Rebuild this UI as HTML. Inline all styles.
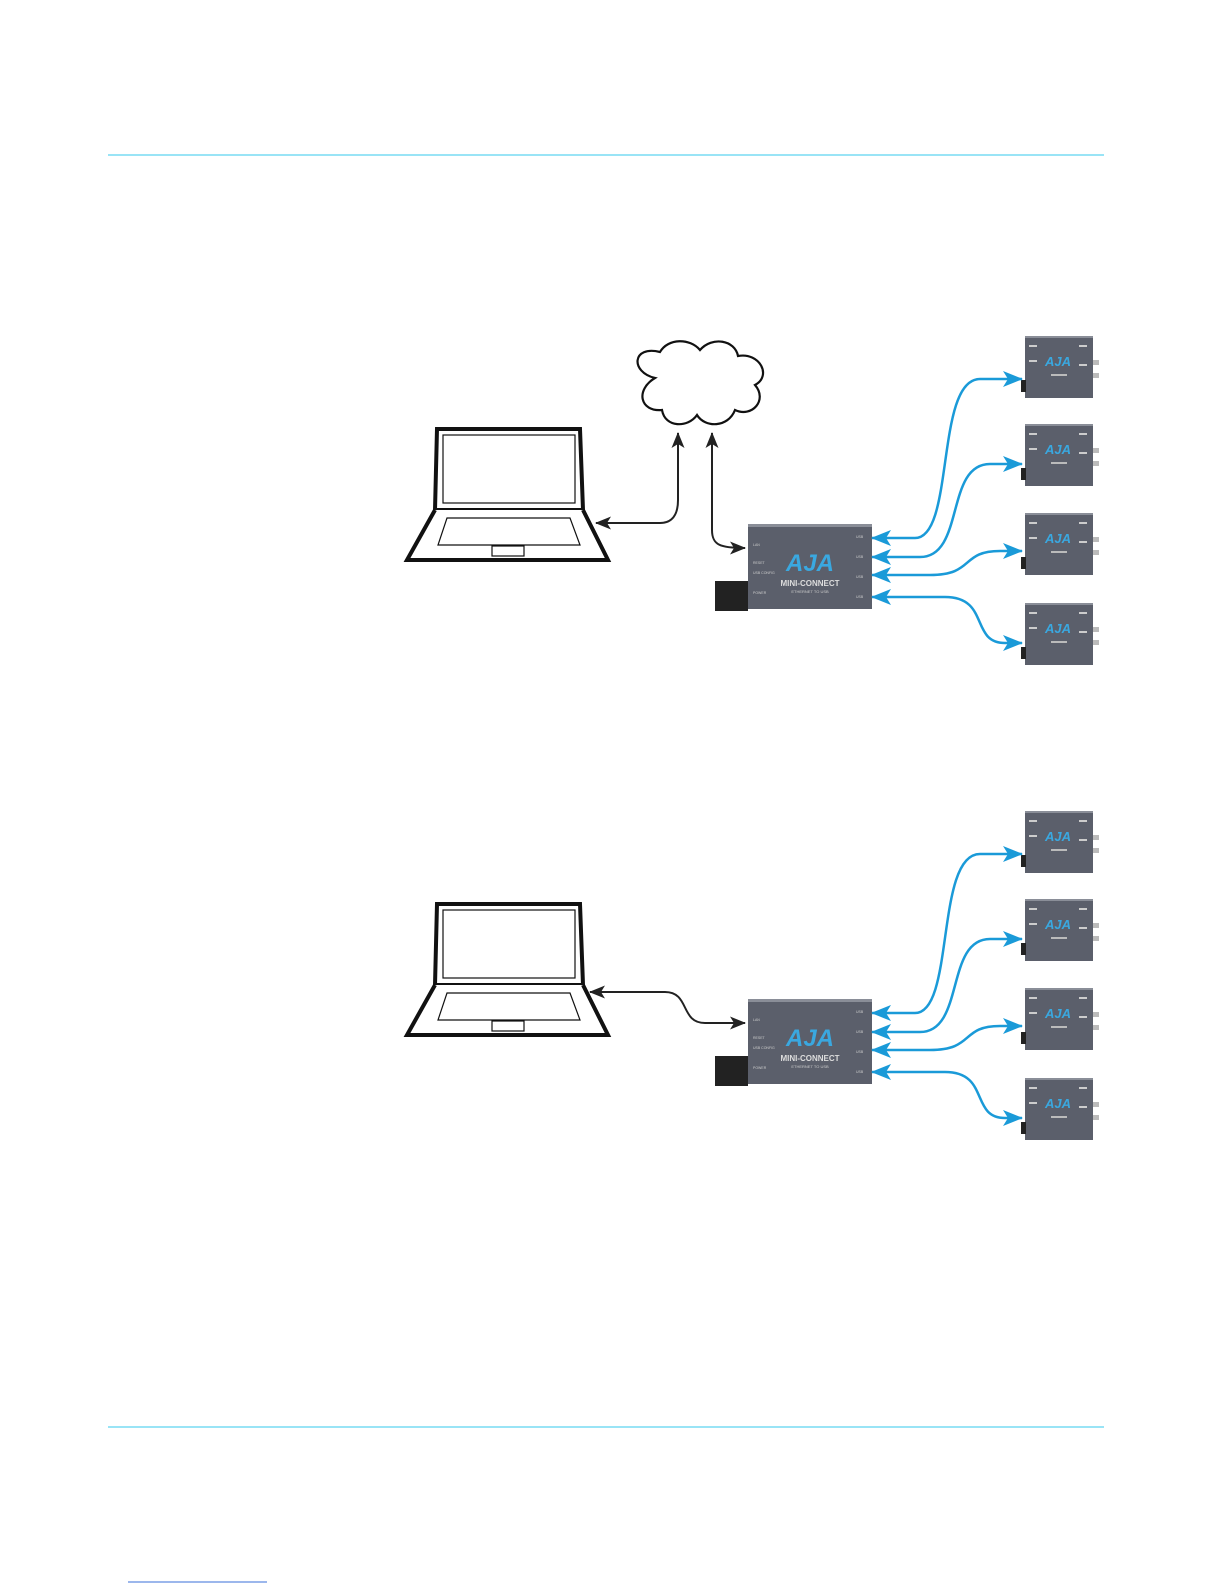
<!DOCTYPE html>
<html><head><meta charset="utf-8"><style>
html,body{margin:0;padding:0;background:#fff}
svg{display:block}
text{font-family:"Liberation Sans",sans-serif}
</style></head><body>
<svg width="1225" height="1585" viewBox="0 0 1225 1585" xmlns="http://www.w3.org/2000/svg">
<defs>
<marker id="ak" viewBox="0 0 16 13" refX="15" refY="6.5" markerWidth="16" markerHeight="13" orient="auto-start-reverse" markerUnits="userSpaceOnUse">
<path d="M0,0 L16,6.5 L0,13 L4,6.5 z" fill="#222"/>
</marker>
<marker id="ab" viewBox="0 0 20 16" refX="19" refY="8" markerWidth="20" markerHeight="16" orient="auto-start-reverse" markerUnits="userSpaceOnUse">
<path d="M0,0 L20,8 L0,16 L5,8 z" fill="#1a9ad8"/>
</marker>
<g id="dev">
<rect x="0" y="0" width="68" height="62" fill="#5b5f6b"/>
<rect x="0" y="0" width="68" height="2" fill="#8a8e98"/>
<rect x="-4" y="44" width="5" height="12" fill="#222"/>
<rect x="68" y="24" width="6" height="5" fill="#bbb"/>
<rect x="68" y="37" width="6" height="5" fill="#bbb"/>
<text x="33" y="30" font-size="13" font-weight="bold" fill="#3aa8e0" text-anchor="middle" font-style="italic">AJA</text>
<rect x="4" y="9" width="8" height="2" fill="#ccc"/><rect x="54" y="9" width="8" height="2" fill="#ccc"/>
<rect x="4" y="24" width="8" height="2" fill="#ccc"/><rect x="54" y="28" width="8" height="2" fill="#ccc"/>
<rect x="26" y="38" width="16" height="2" fill="#bbb"/>
</g>
<g id="mc">
<rect x="0" y="0" width="124" height="85" fill="#5b5f6b"/>
<rect x="0" y="0" width="124" height="3" fill="#8a8e98"/>
<rect x="-33" y="57" width="33" height="30" fill="#222"/>
<text x="62" y="47" font-size="24" font-weight="bold" fill="#3aa8e0" text-anchor="middle" font-style="italic">AJA</text>
<text x="62" y="62" font-size="8" font-weight="bold" fill="#ddd" text-anchor="middle">MINI-CONNECT</text>
<text x="62" y="69" font-size="4" fill="#ccc" text-anchor="middle">ETHERNET TO USB</text>
<text x="5" y="22" font-size="3.5" fill="#ccc">LAN</text>
<text x="5" y="40" font-size="3.5" fill="#ccc">RESET</text>
<text x="5" y="50" font-size="3.5" fill="#ccc">USB CONFIG</text>
<text x="5" y="70" font-size="3.5" fill="#ccc">POWER</text>
<text x="108" y="14" font-size="3.5" fill="#ccc">USB</text>
<text x="108" y="34" font-size="3.5" fill="#ccc">USB</text>
<text x="108" y="54" font-size="3.5" fill="#ccc">USB</text>
<text x="108" y="74" font-size="3.5" fill="#ccc">USB</text>
</g>
<g id="lap" fill="none" stroke="#111">
<path d="M437,429 L580,429 L583,510 L435,510 Z" stroke-width="4" fill="#fff"/>
<rect x="443" y="435" width="132" height="68" stroke-width="1.2"/>
<path d="M435,510 L407,560 L608,560 L583,510" stroke-width="4" fill="#fff"/>
<path d="M447,518 L570,518 L580,545 L438,545 Z" stroke-width="1.2"/>
<rect x="492" y="546" width="32" height="10" stroke-width="1.2"/>
</g>
<g id="blue" fill="none" stroke="#1a9ad8" stroke-width="2.5">
<path d="M872,538 L915,538 C955,538 935,379 980,379 L1022,379" marker-start="url(#ab)" marker-end="url(#ab)"/>
<path d="M872,557 L920,557 C965,557 945,464 990,464 L1022,464" marker-start="url(#ab)" marker-end="url(#ab)"/>
<path d="M872,575 L930,575 C975,575 960,551 1000,551 L1022,551" marker-start="url(#ab)" marker-end="url(#ab)"/>
<path d="M872,597 L945,597 C990,597 970,643 1005,643 L1022,643" marker-start="url(#ab)" marker-end="url(#ab)"/>
</g>
</defs>
<line x1="108" y1="155" x2="1104" y2="155" stroke="#5cd3f0" stroke-width="1.3"/>
<line x1="108" y1="1427" x2="1104" y2="1427" stroke="#5cd3f0" stroke-width="1.3"/>
<line x1="128" y1="1582" x2="267" y2="1582" stroke="#3a6fd8" stroke-width="1"/>

<use href="#lap"/>
<path d="M655,378 C630,372 632,345 660,352 C668,338 690,338 700,350 C712,336 735,340 738,356 C760,352 772,376 755,385 C768,400 752,418 735,410 C728,428 705,428 697,415 C688,428 665,428 662,410 C640,412 635,390 655,378 Z" fill="#fff" stroke="#111" stroke-width="2.2"/>
<path d="M596,523 L660,523 C672,523 678,515 678,500 L678,433" fill="none" stroke="#222" stroke-width="2" marker-start="url(#ak)" marker-end="url(#ak)"/>
<path d="M712,433 L712,530 C712,545 720,548 745,548" fill="none" stroke="#222" stroke-width="2" marker-start="url(#ak)" marker-end="url(#ak)"/>
<use href="#mc" x="748" y="524"/>
<use href="#dev" x="1025" y="336"/>
<use href="#dev" x="1025" y="424"/>
<use href="#dev" x="1025" y="513"/>
<use href="#dev" x="1025" y="603"/>
<use href="#blue"/>

<g transform="translate(0,475)">
<use href="#lap"/>
<path d="M590,517 L665,517 C690,517 680,548 705,548 L745,548" fill="none" stroke="#222" stroke-width="2" marker-start="url(#ak)" marker-end="url(#ak)"/>
<use href="#mc" x="748" y="524"/>
<use href="#dev" x="1025" y="336"/>
<use href="#dev" x="1025" y="424"/>
<use href="#dev" x="1025" y="513"/>
<use href="#dev" x="1025" y="603"/>
<use href="#blue"/>
</g>
</svg>
</body></html>
